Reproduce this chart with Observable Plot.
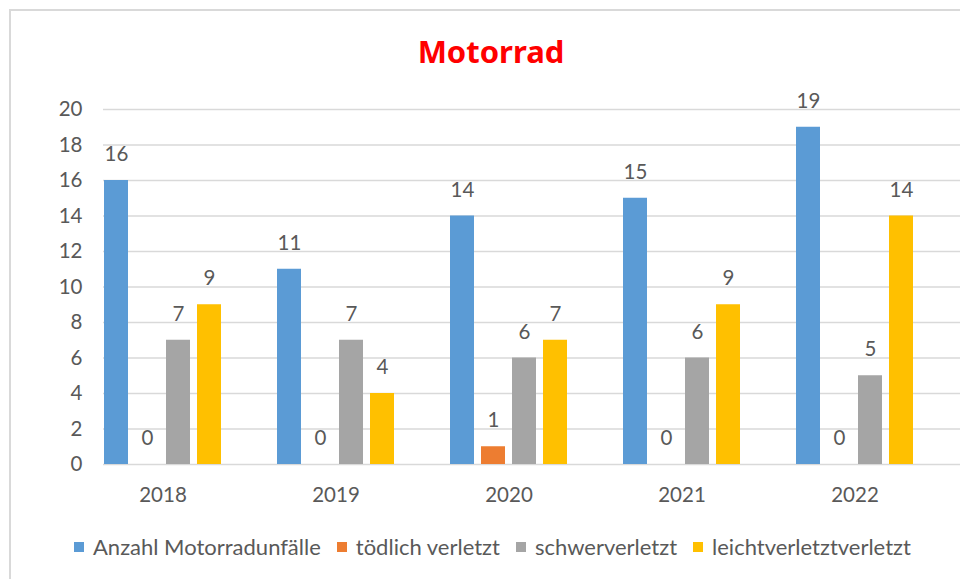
<!DOCTYPE html>
<html>
<head>
<meta charset="utf-8">
<script src="https://cdn.jsdelivr.net/npm/d3@7"></script>
<script src="https://cdn.jsdelivr.net/npm/@observablehq/plot@0.6"></script>
<style>
  html, body { margin: 0; padding: 0; background: #fff; }
  #wrap { position: relative; width: 960px; height: 579px; overflow: hidden; background: #fff; font-family: Lato, "Noto Sans", sans-serif; }
  #border { position: absolute; left: 9px; top: 9px; width: 980px; height: 600px; border-left: 2.5px solid #d9d9d9; border-top: 2.5px solid #d9d9d9; }
  #title { position: absolute; left: 391px; width: 200px; top: 30px; text-align: center; color: #ff0000; font-family: "Noto Sans", sans-serif; font-weight: bold; font-size: 31px; line-height: 42px; }
  #chart { position: absolute; left: 0; top: 0; }
  #legend { position: absolute; left: 74px; top: 534px; display: flex; align-items: center; color: #595959; font-size: 22px; line-height: 26px; white-space: nowrap; }
  .item { display: flex; align-items: center; margin-right: 16px; }
  .sw { width: 10px; height: 10px; margin-right: 9px; }
</style>
</head>
<body>
<div id="wrap">
  <div id="border"></div>
  <div id="chart"></div>
  <div id="title">Motorrad</div>
  <div id="legend"></div>
</div>
<script>
const years = ["2018", "2019", "2020", "2021", "2022"];
const seriesNames = ["Anzahl Motorradunfälle", "tödlich verletzt", "schwerverletzt", "leichtverletztverletzt"];
const seriesColors = ["#5b9bd5", "#ed7d31", "#a5a5a5", "#ffc000"];
const anzahl = [16, 11, 14, 15, 19];
const toedlich = [0, 0, 1, 0, 0];
const schwer = [7, 7, 6, 6, 5];
const leicht = [9, 4, 7, 9, 14];
const yTicks = [0, 2, 4, 6, 8, 10, 12, 14, 16, 18, 20];

const seriesValues = [anzahl, toedlich, schwer, leicht];
const data = [];
years.forEach((yr, i) => {
  seriesNames.forEach((s, j) => {
    data.push({year: yr, series: s, value: seriesValues[j][i]});
  });
});

const W = 960, H = 579;
const mL = 74, mR = 18, mT = 109, mB = 115;
const textColor = "#595959";

const chart = Plot.plot({
  width: W,
  height: H,
  marginLeft: mL,
  marginRight: mR,
  marginTop: mT,
  marginBottom: mB,
  style: {background: "transparent", fontFamily: "Lato, 'Noto Sans', sans-serif", color: textColor},
  fx: {domain: years, paddingInner: 0.313, paddingOuter: 0.151, label: null},
  x: {domain: seriesNames, paddingInner: 0.22, paddingOuter: 0, axis: null},
  y: {domain: [0, 20], label: null},
  color: {domain: seriesNames, range: seriesColors},
  marks: [
    Plot.axisY(yTicks, {tickSize: -(W - mL - mR), tickFormat: () => "", stroke: "#d9d9d9", strokeWidth: 1.5, strokeOpacity: 1, label: null}),
    Plot.axisY(yTicks, {tickSize: 0, tickPadding: 21, fontSize: 20.5, fill: textColor, label: null}),
    Plot.axisFx({anchor: "bottom", tickSize: 0, tickPadding: 23, fontSize: 20.5, fill: textColor, label: null}),
    Plot.barY(data, {fx: "year", x: "series", y: "value", fill: "series"}),
    Plot.text(data, {fx: "year", x: "series", y: "value", text: d => String(d.value), dy: -26, fontSize: 20.5, fill: textColor})
  ]
});
document.getElementById("chart").appendChild(chart);

const legend = document.getElementById("legend");
seriesNames.forEach((s, j) => {
  const it = document.createElement("div");
  it.className = "item";
  const sw = document.createElement("div");
  sw.className = "sw";
  sw.style.background = seriesColors[j];
  const tx = document.createElement("span");
  tx.textContent = s;
  it.appendChild(sw);
  it.appendChild(tx);
  legend.appendChild(it);
});
</script>
</body>
</html>
